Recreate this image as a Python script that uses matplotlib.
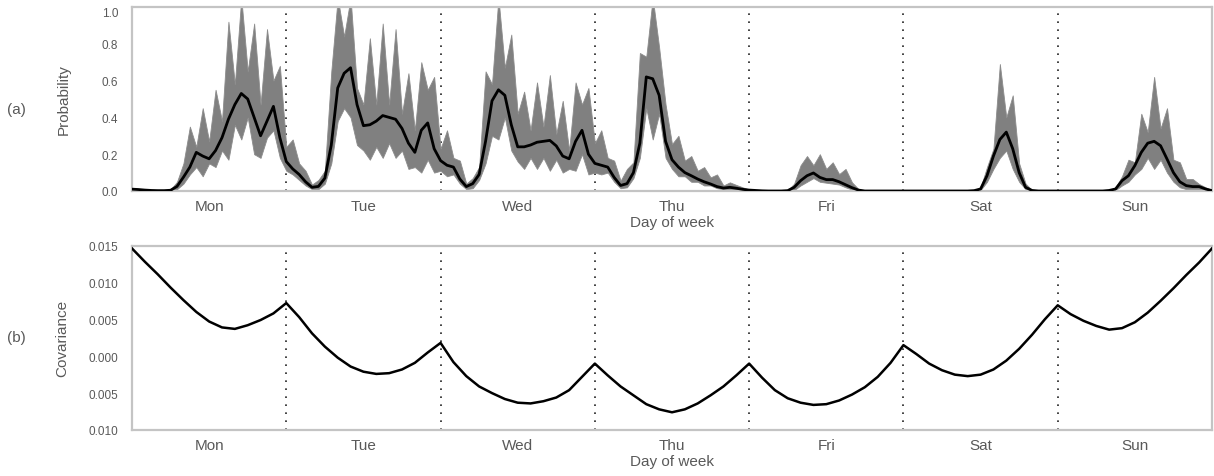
import numpy as np
import matplotlib
matplotlib.use("Agg")
import matplotlib.pyplot as plt
from matplotlib.ticker import FixedLocator, FixedFormatter

plt.rcParams['font.family'] = ['Liberation Sans', 'DejaVu Sans']

days = ["Mon", "Tue", "Wed", "Thu", "Fri", "Sat", "Sun"]

# ---- (a) hourly probability: mean and band (hours 0..168) ----
prob_mean = (
    [0.010, 0.008, 0.005, 0.003, 0.002, 0.002, 0.004, 0.025, 0.075, 0.13, 0.21, 0.19, 0.175, 0.22, 0.29, 0.39, 0.47, 0.53, 0.50, 0.40, 0.30, 0.38, 0.46, 0.29]  # Mon
    + [0.16, 0.12, 0.09, 0.05, 0.02, 0.025, 0.07, 0.25, 0.56, 0.64, 0.67, 0.47, 0.355, 0.36, 0.38, 0.41, 0.40, 0.39, 0.34, 0.26, 0.21, 0.33, 0.37, 0.23]  # Tue
    + [0.165, 0.14, 0.13, 0.065, 0.024, 0.04, 0.09, 0.27, 0.49, 0.55, 0.52, 0.36, 0.24, 0.24, 0.25, 0.265, 0.27, 0.275, 0.245, 0.19, 0.175, 0.27, 0.33, 0.20]  # Wed
    + [0.15, 0.14, 0.13, 0.074, 0.03, 0.04, 0.10, 0.26, 0.62, 0.61, 0.52, 0.27, 0.17, 0.13, 0.10, 0.083, 0.065, 0.05, 0.038, 0.024, 0.016, 0.02, 0.015, 0.009]  # Thu
    + [0.005, 0.003, 0.001, 0, 0, 0, 0.002, 0.02, 0.056, 0.083, 0.098, 0.074, 0.062, 0.062, 0.05, 0.034, 0.018, 0.005, 0, 0, 0, 0, 0, 0]  # Fri
    + [0, 0, 0, 0, 0, 0, 0, 0, 0, 0, 0, 0.002, 0.011, 0.083, 0.19, 0.28, 0.32, 0.23, 0.10, 0.02, 0.003, 0, 0, 0]  # Sat
    + [0, 0, 0, 0, 0, 0, 0, 0, 0.003, 0.011, 0.056, 0.083, 0.138, 0.21, 0.26, 0.27, 0.246, 0.174, 0.10, 0.05, 0.029, 0.024, 0.024, 0.011]  # Sun
    + [0.002]
)
prob_upper = (
    [0.015, 0.012, 0.008, 0.005, 0.004, 0.004, 0.008, 0.05, 0.15, 0.35, 0.24, 0.45, 0.27, 0.55, 0.38, 0.92, 0.58, 1.05, 0.65, 0.91, 0.47, 0.88, 0.60, 0.68]
    + [0.24, 0.28, 0.15, 0.11, 0.035, 0.06, 0.11, 0.65, 1.05, 0.84, 1.05, 0.56, 0.47, 0.83, 0.47, 0.91, 0.47, 0.88, 0.42, 0.64, 0.33, 0.70, 0.55, 0.62]
    + [0.23, 0.33, 0.18, 0.165, 0.04, 0.07, 0.13, 0.65, 0.58, 1.05, 0.67, 0.85, 0.42, 0.54, 0.33, 0.59, 0.35, 0.63, 0.31, 0.49, 0.22, 0.59, 0.47, 0.56]
    + [0.26, 0.33, 0.18, 0.165, 0.056, 0.12, 0.156, 0.75, 0.73, 1.05, 0.78, 0.47, 0.255, 0.30, 0.165, 0.19, 0.11, 0.13, 0.074, 0.09, 0.03, 0.047, 0.033, 0.02]
    + [0.008, 0.005, 0.002, 0.001, 0, 0, 0.004, 0.04, 0.14, 0.19, 0.14, 0.20, 0.12, 0.156, 0.092, 0.12, 0.047, 0.011, 0.002, 0, 0, 0, 0, 0]
    + [0, 0, 0, 0, 0, 0, 0, 0, 0, 0, 0, 0.004, 0.02, 0.13, 0.23, 0.69, 0.40, 0.52, 0.15, 0.04, 0.005, 0, 0, 0]
    + [0, 0, 0, 0, 0, 0, 0, 0, 0.005, 0.02, 0.08, 0.17, 0.156, 0.42, 0.32, 0.62, 0.34, 0.45, 0.17, 0.156, 0.065, 0.065, 0.038, 0.02]
    + [0.005]
)
prob_lower = (
    [0.005, 0.004, 0.002, 0.001, 0.001, 0.001, 0.002, 0.01, 0.04, 0.09, 0.13, 0.08, 0.15, 0.13, 0.22, 0.17, 0.36, 0.28, 0.40, 0.20, 0.18, 0.29, 0.33, 0.18]
    + [0.11, 0.09, 0.06, 0.03, 0.01, 0.01, 0.04, 0.15, 0.38, 0.45, 0.40, 0.25, 0.22, 0.17, 0.24, 0.18, 0.26, 0.18, 0.22, 0.12, 0.13, 0.10, 0.17, 0.10]
    + [0.11, 0.08, 0.09, 0.04, 0.01, 0.015, 0.06, 0.15, 0.30, 0.28, 0.40, 0.22, 0.16, 0.12, 0.18, 0.12, 0.18, 0.11, 0.17, 0.10, 0.12, 0.11, 0.20, 0.09]
    + [0.10, 0.09, 0.10, 0.05, 0.015, 0.02, 0.07, 0.18, 0.45, 0.28, 0.42, 0.18, 0.12, 0.08, 0.08, 0.05, 0.05, 0.03, 0.03, 0.015, 0.01, 0.01, 0.008, 0.004]
    + [0.003, 0.002, 0.001, 0, 0, 0, 0.001, 0.005, 0.03, 0.05, 0.07, 0.05, 0.045, 0.04, 0.035, 0.02, 0.008, 0.001, 0, 0, 0, 0, 0, 0]
    + [0, 0, 0, 0, 0, 0, 0, 0, 0, 0, 0, 0.001, 0.005, 0.05, 0.12, 0.18, 0.22, 0.12, 0.05, 0.01, 0.001, 0, 0, 0]
    + [0, 0, 0, 0, 0, 0, 0, 0, 0.001, 0.005, 0.03, 0.05, 0.09, 0.12, 0.18, 0.12, 0.17, 0.10, 0.05, 0.02, 0.01, 0.01, 0.01, 0.005]
    + [0.0]
)

# ---- (b) covariance every 2 hours (hours 0..168) ----
covariance = (
    [0.0146, 0.0128, 0.0111, 0.0093, 0.0076, 0.0060, 0.0047, 0.0039, 0.0037, 0.0042, 0.0049, 0.0058]      # Mon
    + [0.0072, 0.0053, 0.0031, 0.0013, -0.0002, -0.0014, -0.0021, -0.0024, -0.0023, -0.0018, -0.0009, 0.0005]  # Tue
    + [0.0018, -0.0008, -0.0027, -0.0041, -0.0050, -0.0058, -0.0063, -0.0064, -0.0061, -0.0056, -0.0046, -0.0028]  # Wed
    + [-0.0010, -0.0026, -0.0041, -0.0053, -0.0065, -0.0072, -0.0076, -0.0072, -0.0064, -0.0053, -0.0041, -0.0026]  # Thu
    + [-0.0010, -0.0029, -0.0046, -0.0057, -0.0063, -0.0066, -0.0065, -0.0060, -0.0052, -0.0042, -0.0028, -0.0009]  # Fri
    + [0.0015, 0.0003, -0.0010, -0.0019, -0.0025, -0.0027, -0.0025, -0.0018, -0.0006, 0.0010, 0.0029, 0.0050]  # Sat
    + [0.0069, 0.0057, 0.0048, 0.0041, 0.0036, 0.0038, 0.0046, 0.0059, 0.0075, 0.0092, 0.0110, 0.0127]  # Sun
    + [0.0146]
)

prob_ticks = [0.0, 0.2, 0.4, 0.6, 0.8, 1.0]
prob_ticklabels = ["0.0", "0.2", "0.4", "0.6", "0.8", "1.0"]
cov_ticks = [0.015, 0.010, 0.005, 0.000, -0.005, -0.010]
cov_ticklabels = ["0.015", "0.010", "0.005", "0.000", "0.005", "0.010"]

hours = np.arange(len(prob_mean))
cov_hours = np.arange(len(covariance)) * 2

W, H = 1214, 477
fig = plt.figure(figsize=(W / 100, H / 100), dpi=100)
ax1 = fig.add_axes([132 / W, 1 - 192 / H, 1080 / W, 184 / H])
ax2 = fig.add_axes([132 / W, 1 - 431 / H, 1080 / W, 184.5 / H])

txt = '#595959'
spine_c = '#c4c4c4'


def style(ax):
    for s in ax.spines.values():
        s.set_color(spine_c)
        s.set_linewidth(1.6)
    ax.tick_params(axis='both', length=0, colors=txt)
    ax.tick_params(axis='y', labelsize=8.5, pad=10)
    ax.tick_params(axis='x', labelsize=11, pad=6)
    ax.set_xlim(0, 168)
    ax.xaxis.set_major_locator(FixedLocator([12 + 24 * i for i in range(7)]))
    ax.xaxis.set_major_formatter(FixedFormatter(days))
    for b in range(1, 7):
        ax.axvline(24 * b, color='#222222', lw=1.2, ls=(0, (1, 3.8)), zorder=1)
    ax.set_xlabel("Day of week", fontsize=11, color=txt, labelpad=1)


style(ax1)
ax1.fill_between(hours, prob_lower, prob_upper, color='#808080', lw=0.6,
                 edgecolor='#8c8c8c', zorder=2)
ax1.plot(hours, prob_mean, color='black', lw=2.0, zorder=3)
ax1.set_ylim(0, 1.0)
ax1.yaxis.set_major_locator(FixedLocator(prob_ticks))
ax1.yaxis.set_major_formatter(FixedFormatter(prob_ticklabels))
ax1.set_ylabel("Probability", fontsize=11, color=txt, labelpad=22)
ax1.get_yticklabels()[-1].set_va('top')

style(ax2)
ax2.plot(cov_hours, covariance, color='black', lw=1.8, zorder=3)
ax2.set_ylim(-0.010, 0.015)
ax2.yaxis.set_major_locator(FixedLocator(cov_ticks))
ax2.yaxis.set_major_formatter(FixedFormatter(cov_ticklabels))
ax2.set_ylabel("Covariance", fontsize=11, color=txt, labelpad=14)

fig.text(16 / W, 1 - 110 / H, "(a)", fontsize=11, color=txt, ha='center', va='center')
fig.text(16 / W, 1 - 338 / H, "(b)", fontsize=11, color=txt, ha='center', va='center')

fig.savefig("out.png", dpi=100)
